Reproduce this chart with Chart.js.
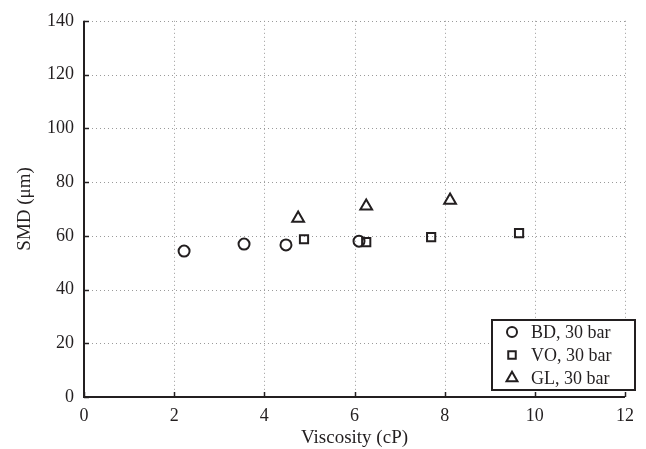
<!DOCTYPE html>
<html><head><meta charset="utf-8">
<script src="https://cdn.jsdelivr.net/npm/chart.js@4/dist/chart.umd.min.js"></script>
<style>html,body{margin:0;padding:0;background:#fff}#wrap{width:646px;height:449px}</style>
</head><body><div id="wrap"><canvas id="c" width="646" height="449"></canvas></div>
<script>
const xTicks = [0, 2, 4, 6, 8, 10, 12];
const yTicks = [0, 20, 40, 60, 80, 100, 120, 140];
const seriesNames = ['BD, 30 bar', 'VO, 30 bar', 'GL, 30 bar'];
const bdX = [2.22, 3.55, 4.48, 6.10];
const bdY = [54.3, 56.9, 56.6, 58.0];
const voX = [4.88, 6.26, 7.70, 9.65];
const voY = [58.7, 57.6, 59.5, 61.0];
const glX = [4.75, 6.26, 8.12];
const glY = [66.5, 71.0, 73.2];

const FONT = '"Liberation Serif", "DejaVu Serif", serif';
const INK = '#231f20';
const pts = (xs, ys) => xs.map((x, i) => ({x, y: ys[i]}));
const styles = ['circle', 'rect', 'triangle'];
const radii = [5.5, 5.8, 6.8];

const gridPlugin = {
  id: 'grid',
  beforeDatasetsDraw(chart) {
    const {ctx, chartArea: a, scales: {x, y}} = chart;
    ctx.save();
    ctx.strokeStyle = '#9a9a9a';
    ctx.lineWidth = 1;
    ctx.setLineDash([1, 3]);
    xTicks.forEach(v => { if (v === 0) return; const px = Math.round(x.getPixelForValue(v)) + 0.5;
      ctx.beginPath(); ctx.moveTo(px, a.top); ctx.lineTo(px, a.bottom); ctx.stroke(); });
    yTicks.forEach(v => { if (v === 0) return; const py = Math.round(y.getPixelForValue(v)) + 0.5;
      ctx.beginPath(); ctx.moveTo(a.left, py); ctx.lineTo(a.right, py); ctx.stroke(); });
    ctx.setLineDash([]);
    ctx.strokeStyle = INK;
    ctx.lineWidth = 1.5;
    xTicks.forEach(v => { const px = Math.round(x.getPixelForValue(v)) + 0.5;
      ctx.beginPath(); ctx.moveTo(px, a.bottom); ctx.lineTo(px, a.bottom - 5); ctx.stroke(); });
    yTicks.forEach(v => { const py = Math.round(y.getPixelForValue(v)) + 0.5;
      ctx.beginPath(); ctx.moveTo(a.left, py); ctx.lineTo(a.left + 5, py); ctx.stroke(); });
    ctx.lineWidth = 2;
    ctx.beginPath(); ctx.moveTo(a.left, a.top); ctx.lineTo(a.left, a.bottom); ctx.lineTo(a.right, a.bottom); ctx.stroke();
    ctx.restore();
  },
  afterDraw(chart) {
    const {ctx, chartArea: a} = chart;
    const w = 143, h = 70;
    const bx = a.right + 10 - w, by = a.bottom - 7 - h;
    ctx.save();
    ctx.fillStyle = '#fff';
    ctx.fillRect(bx, by, w, h);
    ctx.strokeStyle = INK;
    ctx.lineWidth = 2;
    ctx.strokeRect(bx, by, w, h);
    ctx.font = '18px ' + FONT;
    ctx.textBaseline = 'middle';
    seriesNames.forEach((name, i) => {
      const cy = by + 12 + i * 23;
      ctx.strokeStyle = INK; ctx.fillStyle = '#fff'; ctx.lineWidth = 2;
      Chart.helpers.drawPoint(ctx, {pointStyle: styles[i], radius: radii[i] - 0.5, borderWidth: 2}, bx + 20, cy);
      ctx.fillStyle = INK;
      ctx.fillText(name, bx + 39, cy + 1);
    });
    ctx.restore();
  }
};

const datasets = [pts(bdX, bdY), pts(voX, voY), pts(glX, glY)].map((d, i) => ({
  label: seriesNames[i], data: d, pointStyle: styles[i], pointRadius: radii[i],
  pointHoverRadius: radii[i], borderColor: INK, backgroundColor: 'rgba(255,255,255,0)',
  pointBorderWidth: 2, showLine: false
}));

new Chart(document.getElementById('c'), {
  type: 'scatter',
  data: {datasets},
  options: {
    responsive: false, animation: false, devicePixelRatio: 1,
    layout: {padding: {left: 14, right: 21, top: 18, bottom: 0}},
    plugins: {legend: {display: false}, tooltip: {enabled: false}},
    scales: {
      x: {
        type: 'linear', min: 0, max: 12,
        afterBuildTicks: s => { s.ticks = xTicks.map(v => ({value: v})); },
        afterFit: s => { s.height = 52; },
        grid: {display: false, drawTicks: false}, border: {display: false},
        ticks: {color: INK, font: {family: FONT, size: 18}, padding: 8, maxRotation: 0},
        title: {display: true, text: 'Viscosity (cP)', color: INK, font: {family: FONT, size: 19}, padding: {top: 3, bottom: 0}}
      },
      y: {
        type: 'linear', min: 0, max: 140,
        afterBuildTicks: s => { s.ticks = yTicks.map(v => ({value: v})); },
        afterFit: s => { s.width = 70; },
        grid: {display: false, drawTicks: false}, border: {display: false},
        ticks: {color: INK, font: {family: FONT, size: 18}, padding: 10},
        title: {display: true, text: 'SMD (μm)', color: INK, font: {family: FONT, size: 19}, padding: {top: 0, bottom: 2}}
      }
    }
  },
  plugins: [gridPlugin]
});
</script></body></html>
